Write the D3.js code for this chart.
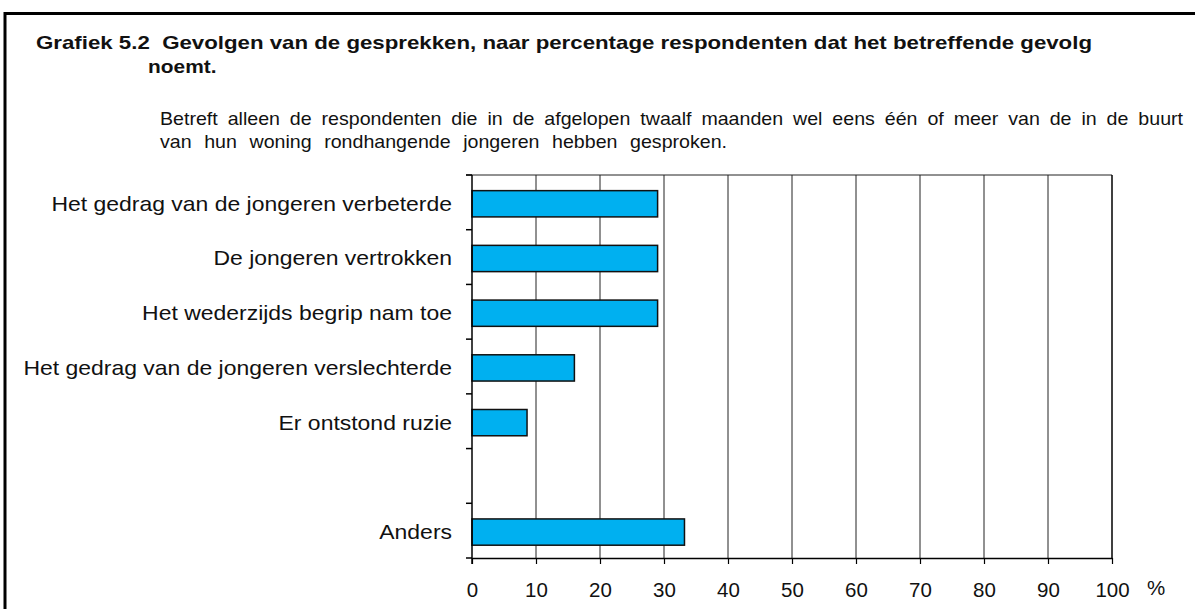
<!DOCTYPE html>
<html>
<head>
<meta charset="utf-8">
<script src="https://cdn.jsdelivr.net/npm/d3@7"></script>
<style>
  html, body { margin: 0; padding: 0; background: #fff; }
  svg { display: block; font-family: "Liberation Sans", Arial, sans-serif; }
</style>
</head>
<body>
<svg id="chart" width="1195" height="609"></svg>
<script>
// ---- data ----
const titleLine1 = "Grafiek 5.2  Gevolgen van de gesprekken, naar percentage respondenten dat het betreffende gevolg";
const titleLine2 = "noemt.";
const noteLine1 = "Betreft alleen de respondenten die in de afgelopen twaalf maanden wel eens één of meer van de in de buurt";
const noteLine2 = "van hun woning rondhangende jongeren hebben gesproken.";
const categories = [
  "Het gedrag van de jongeren verbeterde",
  "De jongeren vertrokken",
  "Het wederzijds begrip nam toe",
  "Het gedrag van de jongeren verslechterde",
  "Er ontstond ruzie",
  " ",
  "Anders"
];
const values = [29, 29, 29, 16, 8.6, null, 33.2];
const xTicks = [0, 10, 20, 30, 40, 50, 60, 70, 80, 90, 100];
const unitLabel = "%";

// ---- layout ----
const svg = d3.select("#chart");
const plot = { left: 472, right: 1112, top: 175, bottom: 558 };
const sx = 1.12;      // horizontal stretch of the original typography
const sxNote = 1.06;

// fit a (horizontally scaled) line to a target width by stretching word spacing
function justify(sel, targetWidth, scale) {
  const node = sel.node();
  const natural = node.getComputedTextLength();
  const spaces = (node.textContent.match(/ /g) || []).length;
  const extra = (targetWidth / scale - natural) / spaces;
  if (spaces > 0) sel.attr("word-spacing", extra);
}

// frame
svg.append("rect")
  .attr("x", 5).attr("y", 13.5)
  .attr("width", 1400).attr("height", 800)
  .attr("fill", "none").attr("stroke", "#000").attr("stroke-width", 3);

// title
const tg = svg.append("g").attr("font-weight", "bold").attr("font-size", 18.5).attr("fill", "#111");
tg.append("text").attr("x", 36).attr("y", 49).style("white-space", "pre")
  .attr("textLength", 1056).attr("lengthAdjust", "spacingAndGlyphs").text(titleLine1);
tg.append("text").attr("transform", `translate(148,73) scale(1.13,1)`).text(titleLine2);

// note
const ng = svg.append("g").attr("font-size", 18.5).attr("fill", "#111");
const n1 = ng.append("text").attr("transform", `translate(160,125) scale(${sxNote},1)`).text(noteLine1);
justify(n1, 1023, sxNote);
const n2 = ng.append("text").attr("transform", `translate(160,148) scale(${sxNote},1)`).text(noteLine2);
justify(n2, 567, sxNote);

// scales
const x = d3.scaleLinear().domain([0, 100]).range([plot.left, plot.right]);
const y = d3.scaleBand().domain(categories).range([plot.top, plot.bottom])
  .paddingInner(0.52).paddingOuter(0.26).align(0.55);

const step = (plot.bottom - plot.top) / categories.length;

// vertical gridlines
svg.append("g").selectAll("line").data(xTicks.filter(t => t > 0 && t < 100)).join("line")
  .attr("x1", d => x(d)).attr("x2", d => x(d))
  .attr("y1", plot.top).attr("y2", plot.bottom)
  .attr("stroke", "#222").attr("stroke-width", 1);

// plot border top & right
svg.append("line").attr("x1", plot.left - 6).attr("x2", plot.right)
  .attr("y1", plot.top).attr("y2", plot.top).attr("stroke", "#222").attr("stroke-width", 1);
svg.append("line").attr("x1", plot.right).attr("x2", plot.right)
  .attr("y1", plot.top).attr("y2", plot.bottom).attr("stroke", "#000").attr("stroke-width", 1.5);

// bars
svg.append("g").selectAll("rect").data(categories.map((c, i) => ({ c, v: values[i] })).filter(d => d.v != null))
  .join("rect")
  .attr("x", x(0)).attr("y", d => y(d.c))
  .attr("width", d => x(d.v) - x(0)).attr("height", y.bandwidth())
  .attr("fill", "#00B0F0").attr("stroke", "#111").attr("stroke-width", 1.5);

// y axis: line + boundary ticks
const yAxisG = svg.append("g");
yAxisG.append("line").attr("x1", plot.left).attr("x2", plot.left)
  .attr("y1", plot.top).attr("y2", plot.bottom + 6).attr("stroke", "#000").attr("stroke-width", 1.5);
yAxisG.selectAll("line.tk").data(d3.range(categories.length + 1)).join("line").attr("class", "tk")
  .attr("x1", plot.left - 6).attr("x2", plot.left)
  .attr("y1", i => plot.top + i * step).attr("y2", i => plot.top + i * step)
  .attr("stroke", "#000").attr("stroke-width", 1.5);

// category labels
svg.append("g").attr("font-size", 20.5).attr("fill", "#111").attr("text-anchor", "end")
  .selectAll("text").data(categories).join("text")
  .attr("transform", d => `translate(${plot.left - 20},${y(d) + y.bandwidth() / 2 + 7}) scale(${sx},1)`)
  .text(d => d);

// x axis
const xAxis = d3.axisBottom(x).tickValues(xTicks).tickSize(6).tickSizeOuter(0).tickPadding(18).tickFormat(d3.format("d"));
const xg = svg.append("g").attr("transform", `translate(0,${plot.bottom})`).call(xAxis);
xg.select(".domain").attr("stroke", "#000").attr("stroke-width", 1.5);
xg.selectAll(".tick line").attr("stroke", "#000").attr("stroke-width", 1.2);
xg.selectAll(".tick text").attr("font-size", 20.5).attr("font-family", "Liberation Sans, Arial, sans-serif").attr("fill", "#111");

svg.append("text").attr("x", x(100) + 35).attr("y", plot.bottom + 37)
  .attr("font-size", 20.5).attr("fill", "#111").text(unitLabel);
</script>
</body>
</html>
